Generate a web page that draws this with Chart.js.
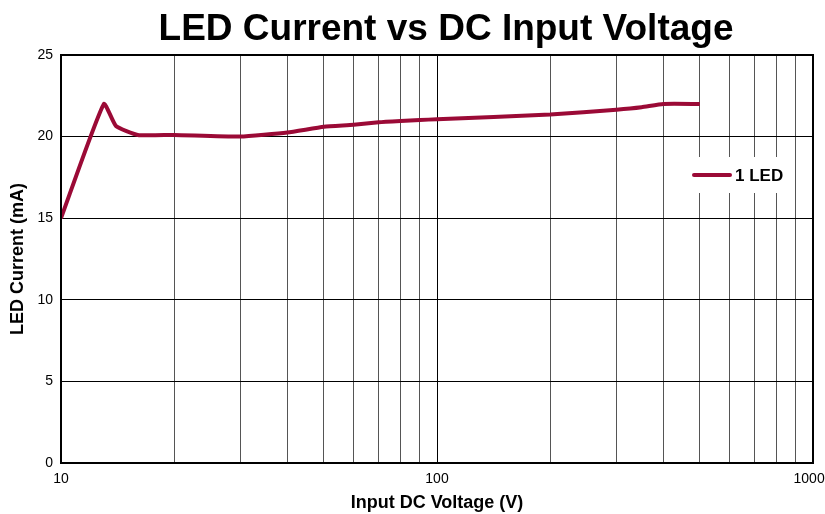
<!DOCTYPE html>
<html>
<head>
<meta charset="utf-8">
<script src="https://cdn.jsdelivr.net/npm/chart.js@4/dist/chart.umd.min.js"></script>
<style>
html,body{margin:0;padding:0;background:#fff;}
#wrap{width:825px;height:514px;}
</style>
</head>
<body>
<div id="wrap"><canvas id="c" width="825" height="514"></canvas></div>
<script>
const voltage = [10, 13, 14, 16, 20, 30, 40, 50, 60, 70, 80, 90, 100, 200, 300, 350, 400, 500];
const current = [15, 22, 20.65, 20.1, 20.1, 20.0, 20.25, 20.6, 20.72, 20.88, 20.96, 21.02, 21.06, 21.35, 21.65, 21.8, 22.0, 22.0];
const seriesLabel = '1 LED';
const xGridValues = [10, 20, 30, 40, 50, 60, 70, 80, 90, 100, 200, 300, 400, 500, 600, 700, 800, 900, 1000];
const xTickLabels = [10, 100, 1000];
const yTicks = [0, 5, 10, 15, 20, 25];
const chartTitle = 'LED Current vs DC Input Voltage';

const FONT = 'Arial, "Liberation Sans", sans-serif';
const lineColor = '#9b0a36';

const titlePlugin = {
  id: 'customTitle',
  afterDraw(chart) {
    const ctx = chart.ctx, ca = chart.chartArea;
    ctx.save();
    ctx.fillStyle = '#000';
    ctx.font = 'bold 37px ' + FONT;
    ctx.textAlign = 'center';
    ctx.textBaseline = 'alphabetic';
    ctx.fillText(chartTitle, (ca.left + ca.right) / 2 + 9, 40);
    ctx.restore();
  }
};

const insideLegend = {
  id: 'insideLegend',
  afterDraw(chart) {
    const ctx = chart.ctx, ca = chart.chartArea;
    const ds = chart.data.datasets[0];
    const bx = ca.right - 123, by = ca.top + 102, bw = 100, bh = 36;
    ctx.save();
    ctx.fillStyle = '#fff';
    ctx.fillRect(bx, by, bw, bh);
    ctx.strokeStyle = ds.borderColor;
    ctx.lineWidth = 4;
    ctx.lineCap = 'round';
    ctx.beginPath();
    ctx.moveTo(bx + 4, by + bh / 2);
    ctx.lineTo(bx + 40, by + bh / 2);
    ctx.stroke();
    ctx.fillStyle = '#000';
    ctx.font = 'bold 17px ' + FONT;
    ctx.textBaseline = 'middle';
    ctx.textAlign = 'left';
    ctx.fillText(ds.label, bx + 45, by + bh / 2 + 1);
    ctx.restore();
  }
};

new Chart(document.getElementById('c'), {
  type: 'line',
  data: {
    datasets: [{
      label: seriesLabel,
      data: voltage.map((v, i) => ({x: v, y: current[i]})),
      borderColor: lineColor,
      backgroundColor: lineColor,
      borderWidth: 4,
      pointRadius: 0,
      tension: 0.15,
      borderCapStyle: 'butt',
      borderJoinStyle: 'round'
    }]
  },
  options: {
    responsive: false,
    animation: false,
    devicePixelRatio: 1,
    layout: {padding: {left: 0, right: 0, top: 55, bottom: 0}},
    plugins: {
      legend: {display: false},
      tooltip: {enabled: false},
      title: {display: false}
    },
    scales: {
      x: {
        type: 'logarithmic',
        min: 10,
        max: 1000,
        border: {display: true, color: '#000', width: 2},
        afterBuildTicks(scale) { scale.ticks = xGridValues.map(v => ({value: v})); },
        grid: {
          color: ctx => (xTickLabels.includes(ctx.tick && ctx.tick.value) ? '#000' : '#555'),
          lineWidth: 1,
          drawTicks: false
        },
        ticks: {
          autoSkip: false,
          maxRotation: 0,
          color: '#000',
          padding: 8,
          font: {family: FONT, size: 14},
          callback: (v) => (xTickLabels.includes(v) ? (v === 1000 ? '1000  ' : String(v)) : '')
        },
        title: {
          display: true,
          text: 'Input DC Voltage (V)',
          color: '#000',
          font: {family: FONT, size: 18, weight: 'bold'},
          padding: {top: 4, bottom: 0}
        },
        afterFit(scale) { scale.height = 51; scale.paddingRight = 12; }
      },
      y: {
        min: 0,
        max: 25,
        border: {display: true, color: '#000', width: 2},
        grid: {color: '#000', lineWidth: 1, drawTicks: false},
        afterBuildTicks(scale) { scale.ticks = yTicks.map(v => ({value: v})); },
        ticks: {
          color: '#000',
          padding: 8,
          font: {family: FONT, size: 14}
        },
        title: {
          display: true,
          text: 'LED Current (mA)',
          color: '#000',
          font: {family: FONT, size: 18, weight: 'bold'},
          padding: {top: 7, bottom: 2}
        },
        afterFit(scale) { scale.width = 61; }
      }
    }
  },
  plugins: [titlePlugin, insideLegend, {
    id: 'frame',
    afterDatasetsDraw(chart) {
      const ctx = chart.ctx, ca = chart.chartArea;
      ctx.save();
      ctx.strokeStyle = '#000';
      ctx.lineWidth = 2;
      ctx.strokeRect(ca.left, ca.top, ca.right - ca.left, ca.bottom - ca.top);
      ctx.restore();
    }
  }]
});
</script>
</body>
</html>
